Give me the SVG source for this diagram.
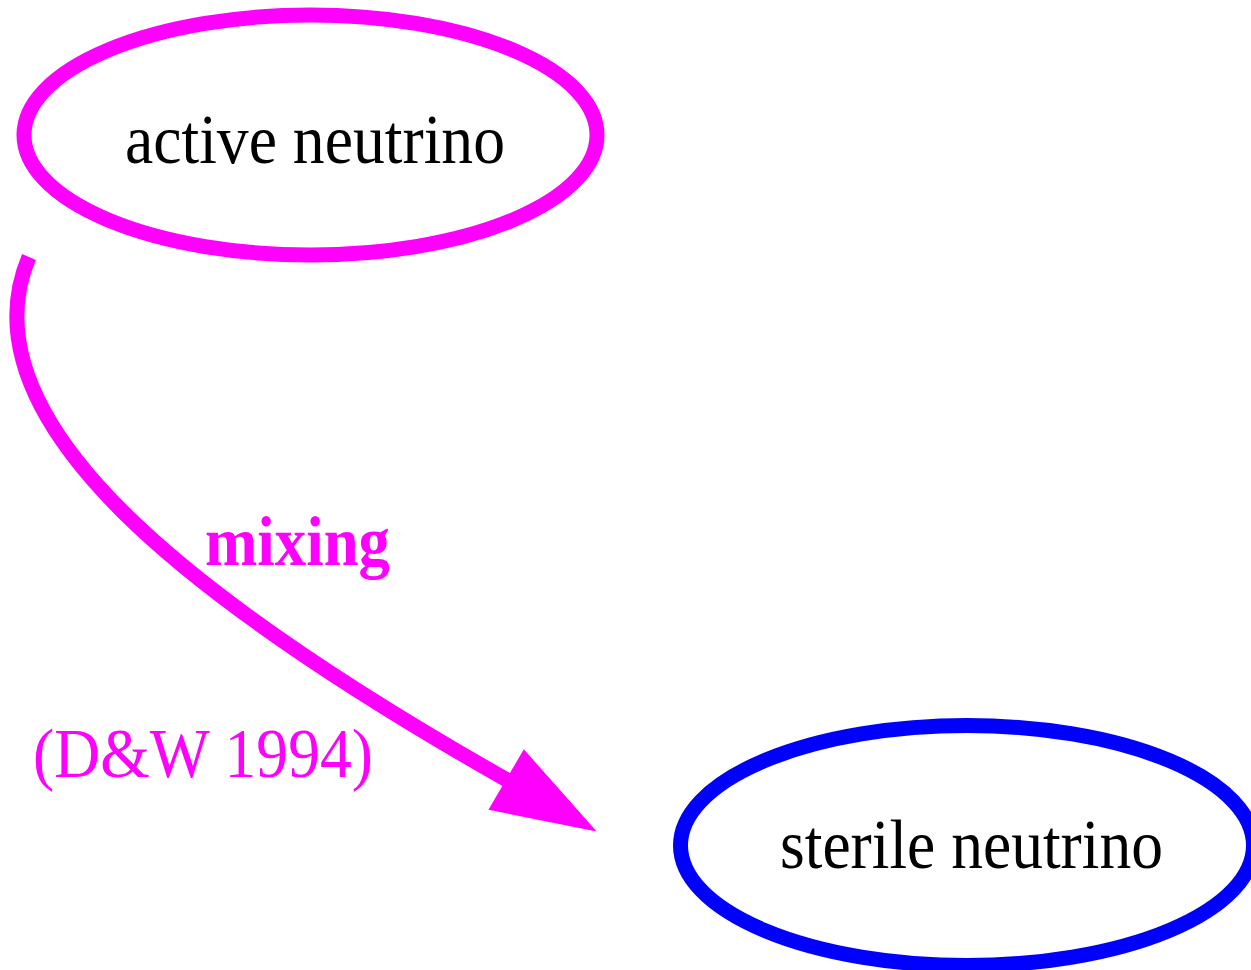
<svg xmlns="http://www.w3.org/2000/svg" width="1251" height="970" viewBox="0 0 1251 970">
<style>
.lbl{font-family:"Liberation Serif","Times New Roman",serif;font-size:70px;text-anchor:middle}
.node{fill:none;stroke-width:15}
.edge{fill:none;stroke:#ff00ff;stroke-width:15}
</style>
<rect width="1251" height="970" fill="#ffffff"/>
<g id="node-active">
<ellipse class="node" cx="310.5" cy="135" rx="286.5" ry="120" stroke="#ff00ff"/>
<text class="lbl" x="315" y="163" fill="#000000" textLength="380" lengthAdjust="spacingAndGlyphs">active neutrino</text>
</g>
<g id="node-sterile">
<ellipse class="node" cx="967" cy="845.5" rx="286.5" ry="120" stroke="#0000ff"/>
<text class="lbl" x="971.5" y="868" fill="#000000" textLength="383" lengthAdjust="spacingAndGlyphs">sterile neutrino</text>
</g>
<g id="connectors">
<path class="edge" d="M29,257 C-40,420 190,600 507,780"/>
<polygon points="524,751 490,809 594,830" fill="#ff00ff" stroke="#ff00ff" stroke-width="2"/>
<text class="lbl" x="297.5" y="565" fill="#ff00ff" font-weight="bold" textLength="185" lengthAdjust="spacingAndGlyphs">mixing</text>
<text class="lbl" x="203" y="777" fill="#ff00ff" textLength="340" lengthAdjust="spacingAndGlyphs">(D&amp;W 1994)</text>
</g>
</svg>
